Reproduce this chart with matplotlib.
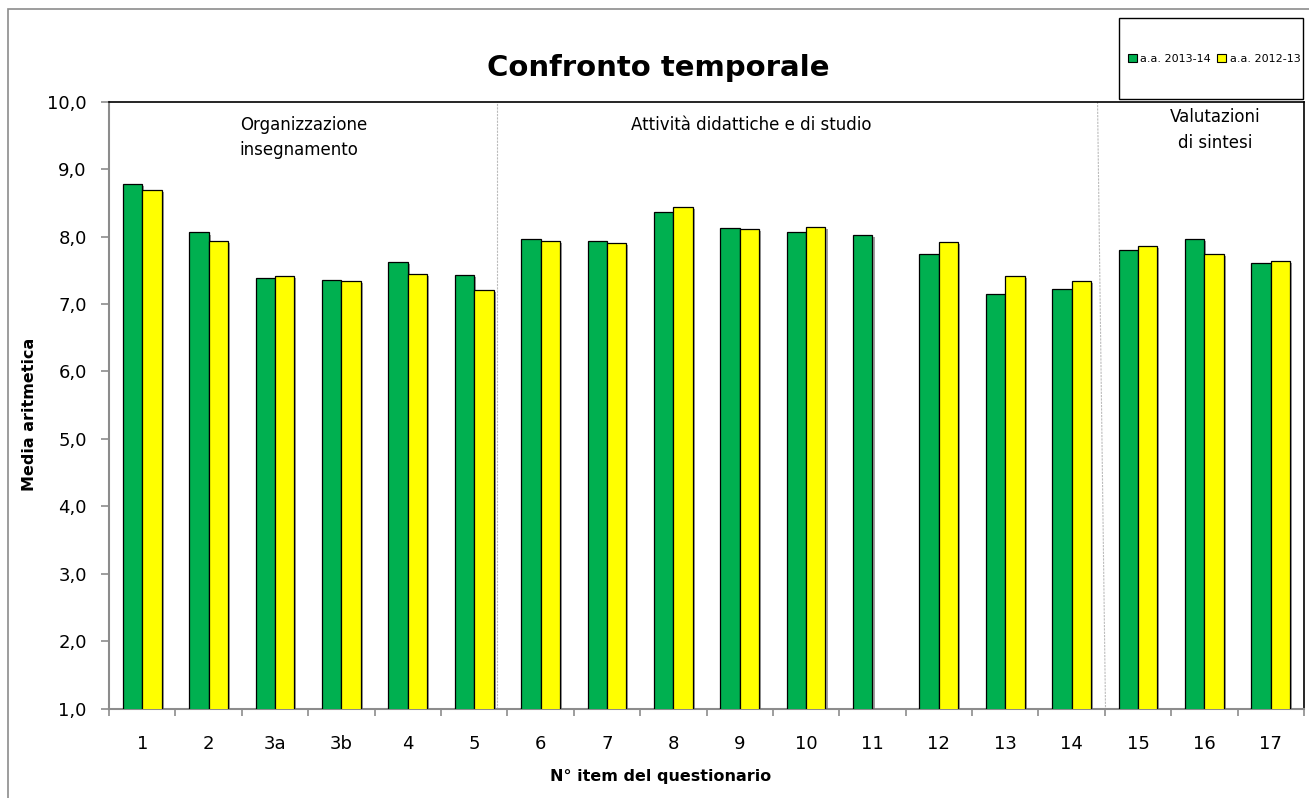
import numpy as np
import matplotlib
matplotlib.use("Agg")
import matplotlib.pyplot as plt
import matplotlib.patheffects as pe
from matplotlib.patches import Rectangle, Patch
from matplotlib.ticker import FuncFormatter

# Data
items = ["1", "2", "3a", "3b", "4", "5", "6", "7", "8", "9",
         "10", "11", "12", "13", "14", "15", "16", "17"]
aa_2013_14 = [8.78, 8.06, 7.39, 7.35, 7.62, 7.43, 7.97, 7.93, 8.36, 8.12,
              8.07, 8.03, 7.74, 7.15, 7.22, 7.80, 7.96, 7.61]
aa_2012_13 = [8.69, 7.94, 7.41, 7.34, 7.45, 7.21, 7.94, 7.90, 8.44, 8.11,
              8.14, np.nan, 7.92, 7.41, 7.34, 7.86, 7.74, 7.64]
series_names = ["a.a. 2013-14", "a.a. 2012-13"]

GREEN = "#00B050"
YELLOW = "#FFFF00"
GREY = "#8C8C8C"

W, H = 1309, 798
fig = plt.figure(figsize=(W / 100, H / 100), dpi=100)
fig.patch.set_facecolor("white")

# chart area border (cut off at right/bottom like the original)
fig.patches.append(Rectangle((8 / W, -0.05), 1.1, 1 - 9 / H + 0.05,
                             transform=fig.transFigure, fill=False,
                             edgecolor=GREY, lw=1.2))

ax = fig.add_axes([109 / W, 1 - 708.5 / H, (1304 - 109) / W, (708.5 - 101.7) / H])

x = np.arange(len(items))
bw = 0.292
shadow = [pe.SimplePatchShadow(offset=(1.5, -1.5), shadow_rgbFace="#777777", alpha=0.7),
          pe.Normal()]
b1 = ax.bar(x - bw / 2, aa_2013_14, bw, color=GREEN, edgecolor="black", lw=0.9, zorder=3)
b2 = ax.bar(x + bw / 2, aa_2012_13, bw, color=YELLOW, edgecolor="black", lw=0.9, zorder=3)
for b in list(b1) + list(b2):
    b.set_path_effects(shadow)

ax.set_xlim(-0.5, len(items) - 0.5)
ax.set_ylim(1, 10)
ax.set_yticks(np.arange(1, 11))
ax.yaxis.set_major_formatter(FuncFormatter(lambda v, p: f"{v:.1f}".replace(".", ",")))
ax.set_xticks(x)
ax.set_xticklabels(items)
ax.set_xticks(np.arange(-0.5, len(items)), minor=True)
ax.tick_params(axis="x", which="major", length=0, pad=19, labelsize=13)
ax.tick_params(axis="x", which="minor", length=5, color=GREY, width=1.2)
ax.tick_params(axis="y", length=6, color=GREY, width=1.2, pad=10, labelsize=13)

for s in ["left", "bottom"]:
    ax.spines[s].set_color(GREY)
    ax.spines[s].set_linewidth(1.5)
for s in ["top", "right"]:
    ax.spines[s].set_color("black")
    ax.spines[s].set_linewidth(1.2)

# section dividers
ax.plot([5.34, 5.34], [1, 10], color="#BBBBBB", lw=0.8, ls=(0, (2, 1)), zorder=1)
ax.plot([14.39, 14.51], [10, 1], color="#BBBBBB", lw=0.8, ls=(0, (2, 1)), zorder=1)

# section labels
ax.text(1.47, 9.47, "Organizzazione\ninsegnamento", ha="left", va="center",
        fontsize=12, linespacing=1.55)
ax.text(9.17, 9.65, "Attività didattiche e di studio", ha="center", va="center",
        fontsize=12)
ax.text(16.16, 9.58, "Valutazioni\ndi sintesi", ha="center", va="center",
        fontsize=12, linespacing=1.55)

# titles
fig.text(658 / W, 1 - 68 / H, "Confronto temporale", ha="center", va="center",
         fontsize=21, fontweight="bold")
fig.text(30 / W, 1 - 414 / H, "Media aritmetica", ha="center", va="center",
         rotation=90, fontsize=11.5, fontweight="bold")
fig.text(661 / W, 1 - 777 / H, "N° item del questionario", ha="center", va="center",
         fontsize=11.5, fontweight="bold")

# legend box
fig.patches.append(Rectangle((1119 / W, 1 - 99 / H), (1303 - 1119) / W, 81 / H,
                             transform=fig.transFigure, fill=True, facecolor="white",
                             edgecolor="black", lw=1.0, zorder=5))
handles = [Patch(facecolor=GREEN, edgecolor="black", lw=0.8),
           Patch(facecolor=YELLOW, edgecolor="black", lw=0.8)]
leg = fig.legend(handles, series_names, loc="center",
                 bbox_to_anchor=(1214 / W, 1 - 59 / H), ncol=2, frameon=False,
                 fontsize=8, handlelength=0.8, handleheight=0.8,
                 handletextpad=0.3, columnspacing=0.6, borderaxespad=0)
leg.set_zorder(6)

fig.savefig("out.png", dpi=100)
